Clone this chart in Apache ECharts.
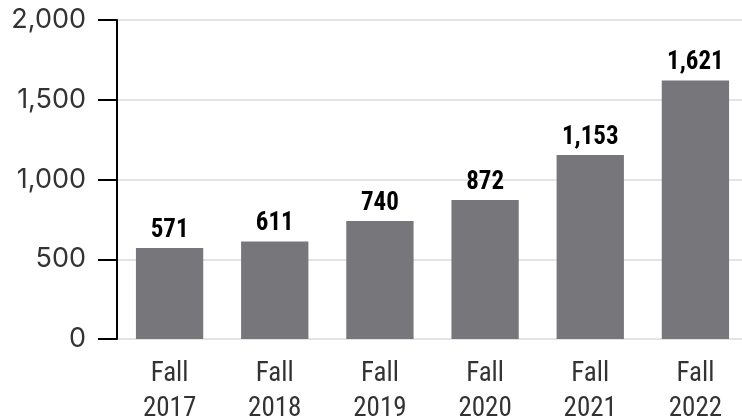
<!DOCTYPE html>
<html><head><meta charset="utf-8">
<script src="https://cdn.jsdelivr.net/npm/echarts@6/dist/echarts.min.js"></script>
<style>html,body{margin:0;padding:0;background:#fff}#c{width:742px;height:418px}</style>
</head><body><div id="c"></div>
<script>
const categories = ["Fall\n2017","Fall\n2018","Fall\n2019","Fall\n2020","Fall\n2021","Fall\n2022"];
const values = [571, 611, 740, 872, 1153, 1621];
const yTicks = [0, 500, 1000, 1500, 2000];

const condensed = "'Roboto Condensed', 'Liberation Sans Narrow', 'DejaVu Sans Condensed', Roboto";
const chart = echarts.init(document.getElementById('c'));
chart.setOption({
  animation: false,
  grid: {left: 117, right: -6, top: 20, bottom: 79, containLabel: false, outerBoundsMode: 'none'},
  xAxis: {
    type: 'category', data: categories,
    axisLine: {show: false}, axisTick: {show: false},
    axisLabel: {color: '#333', fontFamily: condensed, fontSize: 27, lineHeight: 35, margin: 18}
  },
  yAxis: {
    type: 'value', min: yTicks[0], max: yTicks[yTicks.length-1], interval: 500,
    axisLine: {show: true, lineStyle: {color: '#000', width: 2}},
    axisTick: {show: true, inside: false, length: 19, lineStyle: {color: '#000', width: 2}},
    splitLine: {lineStyle: {color: '#e3e3e3', width: 2}},
    axisLabel: {color: '#333', fontFamily: 'Inter', fontSize: 27, margin: 31,
      formatter: v => v.toLocaleString('en-US')}
  },
  series: [{
    type: 'bar', data: values, barWidth: '64%',
    itemStyle: {color: '#76767b'},
    label: {show: true, position: 'top', distance: 5, color: '#000', fontFamily: condensed,
      fontWeight: 'bold', fontSize: 25, formatter: p => p.value.toLocaleString('en-US')}
  }]
});
</script></body></html>
